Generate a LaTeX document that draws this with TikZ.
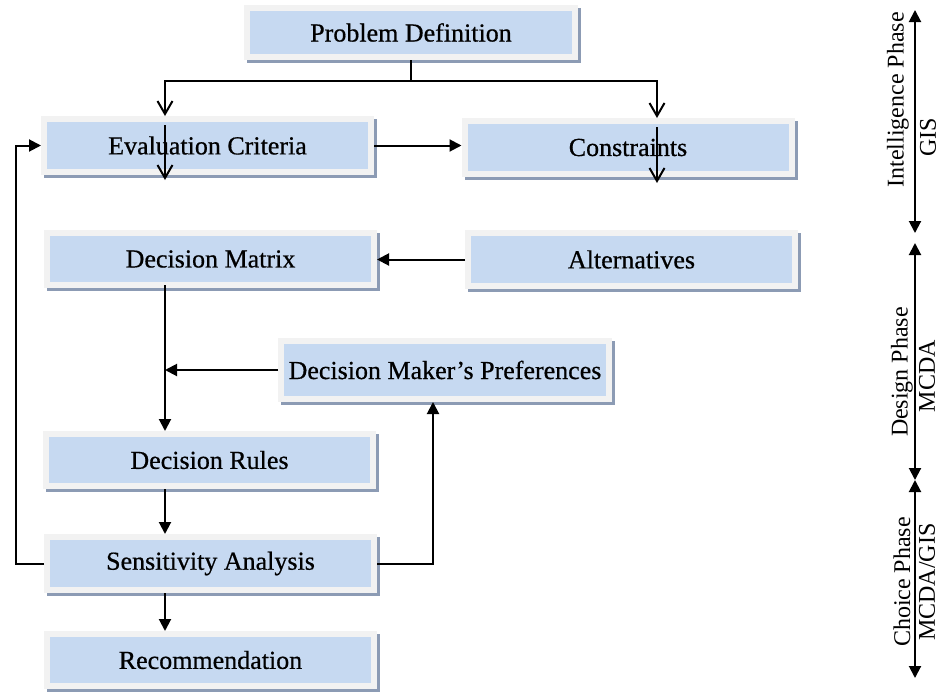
\documentclass[tikz,border=0pt]{standalone}
\usepackage{fontspec}
\setmainfont{Liberation Serif}
\newfontfamily\boxfont[FakeBold=0.6]{Liberation Serif}
\usetikzlibrary{arrows.meta,shadows,calc}
\definecolor{boxblue}{RGB}{198,217,241}
\definecolor{framegray}{RGB}{242,242,242}
\definecolor{shadowc}{RGB}{140,155,180}
\begin{document}
\begin{tikzpicture}[x=1pt,y=-1pt,
  box/.style={draw=framegray, line width=6pt, fill=boxblue, minimum width=327pt, minimum height=53pt,
    inner sep=0pt, font=\boxfont\fontsize{26}{30}\selectfont, text=black,
    drop shadow={shadow xshift=3pt, shadow yshift=-3pt, fill=shadowc, draw=shadowc, line width=6pt, opacity=1}},
  phase/.style={rotate=90, inner sep=0pt, font=\fontsize{24}{28}\selectfont},
  conn/.style={line width=2pt, draw=black},
  tri/.style={-{Triangle[length=12pt,width=12pt]}},
  dtri/.style={{Triangle[length=12pt,width=12pt]}-{Triangle[length=12pt,width=12pt]}},
  vee/.style={-{Straight Barb[length=13pt,width=15pt]}}]
\useasboundingbox (0,0) rectangle (940,691);

\node[box, minimum width=328pt, minimum height=49pt] (pd) at (411,32.5) {Problem Definition};
\node[box] (ec) at (207.5,145.5) {Evaluation Criteria};
\node[box] (con) at (628,147.5) {Constraints};
\node[box, minimum height=52pt] (dm) at (210.5,259) {Decision Matrix};
\node[box] (alt) at (631.5,259.5) {Alternatives};
\node[box, minimum width=328pt, minimum height=58pt] (dmp) at (445,370) {Decision Maker’s Preferences};
\node[box, minimum height=52pt] (dr) at (209.5,460) {Decision Rules};
\node[box] (sa) at (210.5,563.5) {Sensitivity Analysis};
\node[box, minimum height=52pt] (rec) at (210.5,660) {Recommendation};

\coordinate (colL) at (165,0);
\coordinate (colR) at (657,0);
\coordinate (jn) at (411,81);
\coordinate (loopL) at (16,0);
\coordinate (loopR) at (433,0);

\draw[conn] (pd.south) -- (jn);
\draw[conn,vee] (jn) -| (colL |- ec.north);
\draw[conn,vee] (jn) -| (colR |- con.north);
\draw[conn,vee] ($(colL |- ec.north)+(0,9)$) -- ($(colL |- ec.south)+(0,5)$);
\draw[conn,vee] ($(colR |- con.north)+(0,9)$) -- ($(colR |- con.south)+(0,6)$);

\draw[conn,tri] (ec.east) -- (ec.east -| con.west);
\draw[conn,tri] (alt.west) -- (alt.west -| dm.east);
\draw[conn,tri] ($(colL |- dm.south)+(0,-3)$) -- (colL |- dr.north);
\draw[conn,tri] (dmp.west) -- (dmp.west -| colL);
\draw[conn,tri] (colL |- dr.south) -- (colL |- sa.north);
\draw[conn,tri] (colL |- sa.south) -- (colL |- rec.north);
\draw[conn,tri] (sa.west) -- (sa.west -| loopL) |- (ec.west);
\draw[conn,tri] (sa.east) -| (loopR |- dmp.south);

\coordinate (ph0) at (915,10);
\coordinate (ph1) at (915,233);
\coordinate (ph2) at (915,243);
\coordinate (ph3) at (915,480);
\coordinate (ph4) at (915,678);
\draw[conn,dtri] (ph0) -- (ph1);
\draw[conn,dtri] (ph2) -- (ph3);
\draw[conn,dtri] (ph3) -- (ph4);

\node[phase] (int) at (898,100) {Intelligence Phase};
\node[phase] (gis) at (928,137) {GIS};
\node[phase] (des) at (902,372) {Design Phase};
\node[phase] (mcda) at (927,376) {MCDA};
\node[phase] (cho) at (902,582) {Choice Phase};
\node[phase] (mg) at (927,582) {MCDA/GIS};
\end{tikzpicture}
\end{document}
